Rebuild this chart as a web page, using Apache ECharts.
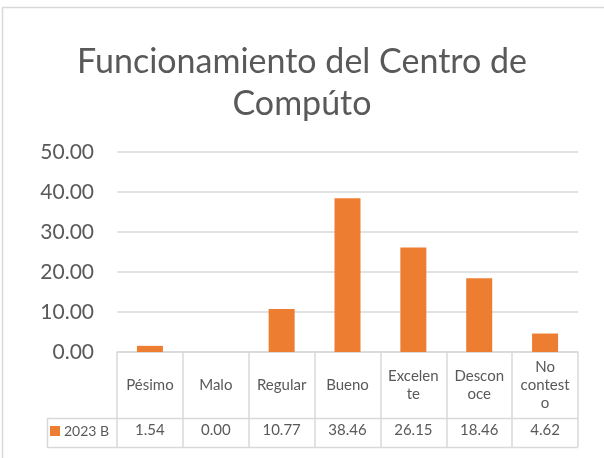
<!DOCTYPE html>
<html>
<head>
<meta charset="utf-8">
<script src="https://cdn.jsdelivr.net/npm/echarts@6/dist/echarts.min.js"></script>
<style>
  html, body { margin: 0; padding: 0; background: #fff; }
  #chart { width: 604px; height: 458px; }
</style>
</head>
<body>
<div id="chart"></div>
<script>
// Survey answers and their percentages
const categories = ['Pésimo', 'Malo', 'Regular', 'Bueno', 'Excelente', 'Desconoce', 'No contesto'];
const categoryLabels = ['Pésimo', 'Malo', 'Regular', 'Bueno', 'Excelen\nte', 'Descon\noce', 'No\ncontest\no'];
const seriesName = '2023 B';
const values = [1.54, 0.00, 10.77, 38.46, 26.15, 18.46, 4.62];
const yTicks = { min: 0, max: 50, step: 10 };

const FONT = 'Lato';
const TEXT = '#595959';
const LINE = '#d9d9d9';
const ORANGE = '#ED7D31';

const chart = echarts.init(document.getElementById('chart'), null, { renderer: 'canvas' });

const option = {
  backgroundColor: '#fff',
  animation: false,
  textStyle: { fontFamily: FONT },
  title: {
    text: 'Funcionamiento del Centro de\nCompúto',
    left: 'center',
    top: 36,
    textStyle: { fontFamily: FONT, fontSize: 34, fontWeight: 'normal', color: TEXT, lineHeight: 42 }
  },
  legend: {
    data: [seriesName],
    left: 50,
    top: 424,
    icon: 'rect',
    itemWidth: 10,
    itemHeight: 10,
    itemGap: 4,
    padding: 0,
    textStyle: { fontFamily: FONT, fontSize: 14, color: TEXT, padding: [0, 0, 0, -1] }
  },
  grid: { left: 117, right: 26, top: 152, bottom: 106, containLabel: false },
  xAxis: {
    type: 'category',
    data: categories,
    axisLine: { show: true, lineStyle: { color: LINE, width: 1.5 } },
    axisTick: { show: true, interval: 0, length: 95, lineStyle: { color: LINE, width: 1.5 } },
    axisLabel: {
      interval: 0,
      margin: 33,
      verticalAlign: 'middle',
      fontFamily: FONT,
      fontSize: 15,
      lineHeight: 18,
      color: TEXT,
      formatter: (v, i) => categoryLabels[i]
    }
  },
  yAxis: {
    type: 'value',
    min: yTicks.min,
    max: yTicks.max,
    interval: yTicks.step,
    axisLine: { show: false },
    axisTick: { show: false },
    splitLine: { lineStyle: { color: LINE, width: 1.5 } },
    axisLabel: {
      margin: 23,
      fontFamily: FONT,
      fontSize: 21,
      color: TEXT,
      formatter: v => v.toFixed(2)
    }
  },
  series: [{
    name: seriesName,
    type: 'bar',
    data: values,
    barWidth: 26,
    itemStyle: { color: ORANGE },
    label: {
      show: true,
      position: 'bottom',
      distance: 71,
      fontFamily: FONT,
      fontSize: 15,
      color: TEXT,
      formatter: p => p.value.toFixed(2)
    }
  }],
  graphic: [
    // outer chart frame
    { type: 'rect', silent: true, shape: { x: 2.5, y: 7.5, width: 640, height: 480 },
      style: { fill: null, stroke: LINE, lineWidth: 1.5 } },
    // data table: value row borders
    { type: 'line', silent: true, shape: { x1: 47, y1: 418.5, x2: 578, y2: 418.5 },
      style: { stroke: LINE, lineWidth: 1.5 } },
    { type: 'line', silent: true, shape: { x1: 47, y1: 447.5, x2: 578, y2: 447.5 },
      style: { stroke: LINE, lineWidth: 1.5 } },
    { type: 'line', silent: true, shape: { x1: 47.5, y1: 418, x2: 47.5, y2: 448 },
      style: { stroke: LINE, lineWidth: 1.5 } }
  ]
};

chart.setOption(option);
</script>
</body>
</html>
